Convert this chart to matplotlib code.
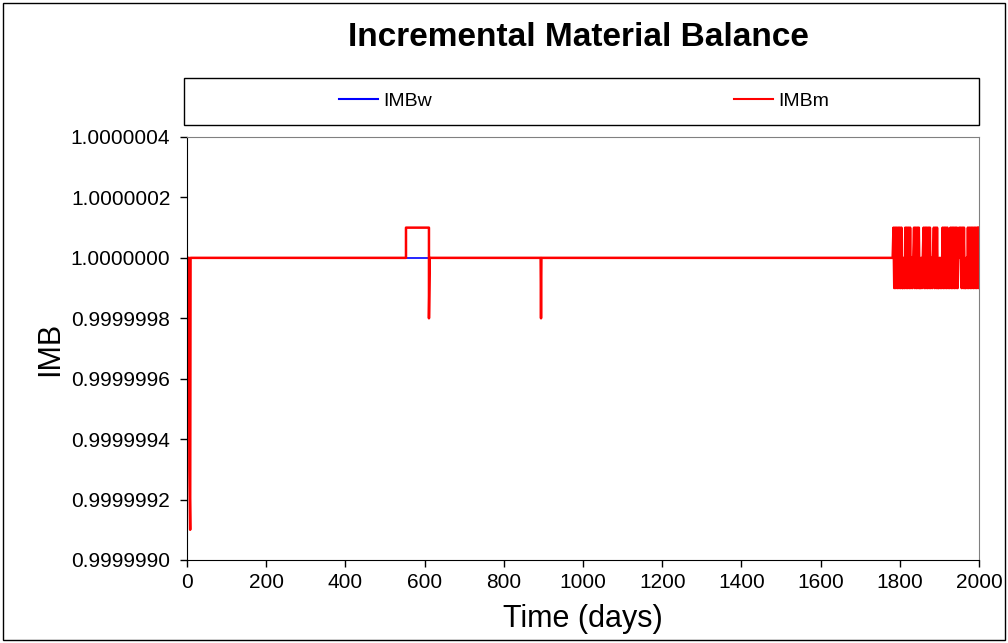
import matplotlib.pyplot as plt
import matplotlib.ticker as mticker
from matplotlib.patches import Rectangle
from matplotlib.lines import Line2D

plt.rcParams['font.family'] = ['Liberation Sans', 'DejaVu Sans']

# ===DATA===
imbw_days = [0, 2000]
imbw_vals = [1.0, 1.0]

imbm_days = [0, 5, 6, 8, 9, 553, 553, 611, 611, 613, 893, 894, 895, 1782]
imbm_vals = [1.0, 1.0, 0.9999993, 0.9999991, 1.0, 1.0, 1.0000001, 1.0000001,
             0.9999998, 1.0, 1.0, 0.9999998, 1.0, 1.0]

# late-time oscillation, one code every 2 days from day 1784
# h = 1.0000001, m = 1.0, l = 0.9999999
tail_codes = ("hlhlhlhlhlhl" "lml" "hlhlhlhl" "mlm" "hlhlhlhl" "lmlm"
              "hlhlhlhlhl" "mlm" "hlhlhl" "lmlml" "hlhlhlhl" "ml"
              "hlhlhlhlhl" "mhm" "hlhlhl" "lml" "hlhlhlhl" "hlhlhlh")
tail_start = 1784
code_vals = {'h': 1.0000001, 'm': 1.0, 'l': 0.9999999}

y_ticks = [0.999999, 0.9999992, 0.9999994, 0.9999996, 0.9999998,
           1.0, 1.0000002, 1.0000004]
x_ticks = list(range(0, 2001, 200))

tail_days = [tail_start + 2 * i for i in range(len(tail_codes))]
tail_vals = [code_vals[c] for c in tail_codes]
m_days = imbm_days + tail_days
m_vals = imbm_vals + tail_vals

# ===graph===
fig = plt.figure(figsize=(10.08, 6.43), dpi=100)
ax = fig.add_axes([187/1008, 1-560/643, (979-187)/1008, (560-137)/643])

ax.plot(imbw_days, imbw_vals, color='#0000ff', lw=1.2, label='IMBw')
ax.plot(m_days, m_vals, color='#ff0000', lw=1.8, label='IMBm')

ax.set_xlim(0, 2000)
ax.set_ylim(0.999999, 1.0000004)
ax.yaxis.set_major_locator(mticker.FixedLocator(y_ticks))
ax.yaxis.set_major_formatter(mticker.FormatStrFormatter('%.7f'))
ax.set_xticks(x_ticks)
ax.tick_params(axis='both', labelsize=15, direction='out', length=5, width=1)
ax.tick_params(axis='y', pad=7)
ax.tick_params(axis='x', pad=4)

for s in ['top', 'right']:
    ax.spines[s].set_color('#808080')
for s in ['left', 'bottom']:
    ax.spines[s].set_color('black')

ax.set_xlabel('Time (days)', fontsize=22, labelpad=9)
ax.set_ylabel('IMB', fontsize=22, labelpad=4)

fig.text(0.5735, 1-37/643, 'Incremental Material Balance', fontsize=24,
         fontweight='bold', ha='center', va='center')

# legend box above the plot
fig.patches.append(Rectangle((184/1008, 1-125/643), (979-184)/1008, 47/643,
                             transform=fig.transFigure, fill=False,
                             edgecolor='black', lw=1))
handles = [Line2D([], [], color='#0000ff', lw=1.5),
           Line2D([], [], color='#ff0000', lw=1.5)]
fig.legend(handles, ['IMBw', 'IMBm'], loc='center', ncol=2, frameon=False,
           bbox_to_anchor=(584/1008, 1-101/643), fontsize=14,
           handlelength=2.0, handletextpad=0.3, columnspacing=15.5)

# outer chart border
fig.patches.append(Rectangle((3/1008, 3/643), 1-6/1008, 1-6/643,
                             transform=fig.transFigure, fill=False,
                             edgecolor='black', lw=1))

fig.savefig('out.png', dpi=100)
